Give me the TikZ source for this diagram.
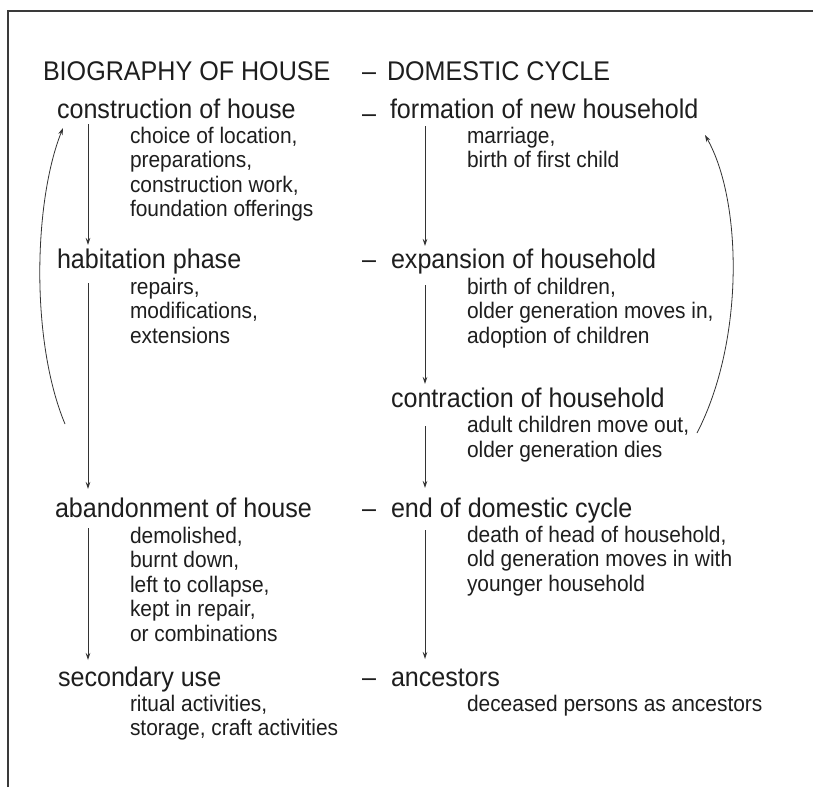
\documentclass[tikz,border=0pt]{standalone}
\usepackage{fontspec}
\setmainfont{Liberation Sans}[FakeStretch=0.93]
\usetikzlibrary{arrows.meta}
\definecolor{ink}{HTML}{1E1E1E}
\definecolor{lineink}{HTML}{333333}
\definecolor{frame}{HTML}{3A3A3A}
\begin{document}
\begin{tikzpicture}[x=1pt,y=-1pt,
  every node/.style={inner sep=0pt, outer sep=0pt, anchor=base west, text=ink},
  head/.style={font=\fontsize{27}{27}\selectfont},
  mainitem/.style={font=\fontsize{27}{27}\selectfont},
  subitem/.style={font=\fontsize{22.5}{24.5}\selectfont, align=left},
  conn/.style={draw=lineink, line width=0.8pt, -{Stealth[length=7pt,width=4.5pt]}},
  cycle/.style={draw=lineink, line width=0.8pt, -{Stealth[length=7pt,width=4.5pt]}},
]
\useasboundingbox (0,0) rectangle (813,787);
\fill[white] (0,0) rectangle (813,787);
% frame
\draw[frame, line width=1.5pt] (8,787) -- (8,11) -- (813,11);

% headings
\node[head] (h1) at (43,80) {BIOGRAPHY OF HOUSE};
\node[head] (h2d) at (362,80) {–};
\node[head] (h2) at (387,80) {DOMESTIC CYCLE};

% left column (multi-line nodes are placed by the baseline of their last line)
\node[mainitem] (c1) at (57,118) {construction of house};
\node[subitem] (c1s) at (130,216.5) {choice of location,\\preparations,\\construction work,\\foundation offerings};
\node[mainitem] (c2) at (57,268) {habitation phase};
\node[subitem] (c2s) at (130,343) {repairs,\\modifications,\\extensions};
\node[mainitem] (c3) at (55,517) {abandonment of house};
\node[subitem] (c3s) at (130,641) {demolished,\\burnt down,\\left to collapse,\\kept in repair,\\or combinations};
\node[mainitem] (c4) at (58,686) {secondary use};
\node[subitem] (c4s) at (130,735.5) {ritual activities,\\storage, craft activities};

% right column
\node[mainitem] (d1d) at (362,122) {–};
\node[mainitem] (d1) at (390,118) {formation of new household};
\node[subitem] (d1s) at (467,167.5) {marriage,\\birth of first child};
\node[mainitem] (d2d) at (362,268) {–};
\node[mainitem] (d2) at (391,268) {expansion of household};
\node[subitem] (d2s) at (467,343) {birth of children,\\older generation moves in,\\adoption of children};
\node[mainitem] (d3) at (391,407) {contraction of household};
\node[subitem] (d3s) at (467,457) {adult children move out,\\older generation dies};
\node[mainitem] (d4d) at (362,517) {–};
\node[mainitem] (d4) at (391,517) {end of domestic cycle};
\node[subitem] (d4s) at (467,591) {death of head of household,\\old generation moves in with\\younger household};
\node[mainitem] (d5d) at (362,686) {–};
\node[mainitem] (d5) at (391,686) {ancestors};
\node[subitem] (d5s) at (467,711) {deceased persons as ancestors};

% arrow end points
\coordinate (a1s) at (88,124);  \coordinate (a1e) at (88,245);
\coordinate (a2s) at (88,283);  \coordinate (a2e) at (88,489);
\coordinate (a3s) at (88,528);  \coordinate (a3e) at (88,660);
\coordinate (b1s) at (425,126); \coordinate (b1e) at (425,246);
\coordinate (b2s) at (425,285); \coordinate (b2e) at (425,384);
\coordinate (b3s) at (425,426); \coordinate (b3e) at (425,488);
\coordinate (b4s) at (425,530); \coordinate (b4e) at (425,659);
\coordinate (lcs) at (65,424);  \coordinate (lce) at (63,128);
\coordinate (rcs) at (697,433); \coordinate (rce) at (705,135);

\draw[conn] (a1s) -- (a1e);
\draw[conn] (a2s) -- (a2e);
\draw[conn] (a3s) -- (a3e);
\draw[conn] (b1s) -- (b1e);
\draw[conn] (b2s) -- (b2e);
\draw[conn] (b3s) -- (b3e);
\draw[conn] (b4s) -- (b4e);
\draw[cycle] (lcs) .. controls (30,340) and (34,200) .. (lce);
\draw[cycle] (rcs) .. controls (745,340) and (742,200) .. (rce);
\end{tikzpicture}
\end{document}
